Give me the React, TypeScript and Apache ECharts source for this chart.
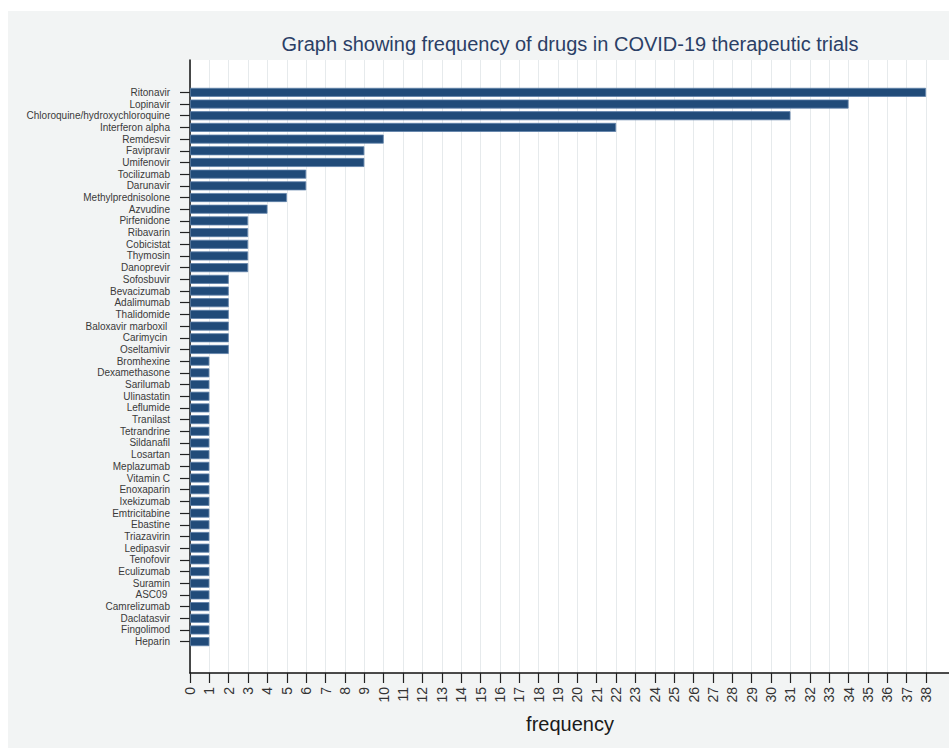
import React, { useEffect, useRef } from "react";
import * as echarts from "echarts";

// Drug names, most frequent first
const drugs: string[] = [
  "Ritonavir", "Lopinavir", "Chloroquine/hydroxychloroquine", "Interferon alpha",
  "Remdesvir", "Favipravir", "Umifenovir", "Tocilizumab", "Darunavir",
  "Methylprednisolone", "Azvudine", "Pirfenidone", "Ribavarin", "Cobicistat",
  "Thymosin", "Danoprevir", "Sofosbuvir", "Bevacizumab", "Adalimumab",
  "Thalidomide", "Baloxavir marboxil ", "Carimycin ", "Oseltamivir",
  "Bromhexine", "Dexamethasone", "Sarilumab", "Ulinastatin", "Leflumide",
  "Tranilast", "Tetrandrine", "Sildanafil", "Losartan", "Meplazumab",
  "Vitamin C", "Enoxaparin", "Ixekizumab", "Emtricitabine", "Ebastine",
  "Triazavirin", "Ledipasvir", "Tenofovir", "Eculizumab", "Suramin",
  "ASC09 ", "Camrelizumab", "Daclatasvir", "Fingolimod", "Heparin",
];

// Number of trials per drug
const frequency: number[] = [
  38, 34, 31, 22, 10, 9, 9, 6, 6, 5, 4, 3, 3, 3, 3, 3,
  2, 2, 2, 2, 2, 2, 2,
  1, 1, 1, 1, 1, 1, 1, 1, 1, 1, 1, 1, 1, 1, 1, 1, 1, 1, 1, 1, 1, 1, 1, 1, 1,
];

const titleText = "Graph showing frequency of drugs in COVID-19 therapeutic trials";
const xAxisName = "frequency";
const xMin = 0;
const xMax = 38;

const FONT = "'Liberation Sans', Arial, Helvetica, sans-serif";

export default function App() {
  const ref = useRef<HTMLDivElement>(null);

  useEffect(() => {
    document.body.style.margin = "0";
    if (!ref.current) return;
    const chart = echarts.init(ref.current, undefined, { renderer: "svg" });

    const plotLeft = 190;
    const plotRight = 23;

    chart.setOption({
      animation: false,
      backgroundColor: "#ffffff",
      textStyle: { fontFamily: FONT },
      grid: [
        // frame: axes, gridlines and tick labels
        { left: plotLeft, right: plotRight, top: 60, bottom: 75, containLabel: false },
        // bars
        { left: plotLeft, right: plotRight, top: 86.5, bottom: 100.5, containLabel: false },
      ],
      xAxis: [
        {
          type: "value",
          gridIndex: 0,
          min: xMin,
          max: xMax,
          interval: 1,
          axisLine: { show: true, onZero: false, lineStyle: { color: "#111", width: 1.5 } },
          axisTick: { show: true, length: 10, lineStyle: { color: "#222", width: 1.2 } },
          axisLabel: { rotate: 90, fontSize: 14, margin: 14, color: "#333", fontFamily: FONT },
          splitLine: { show: true, lineStyle: { color: "#e6eaec", width: 1 } },
        },
        { type: "value", gridIndex: 1, min: xMin, max: xMax, show: false },
      ],
      yAxis: [
        {
          type: "value",
          gridIndex: 0,
          axisLine: { show: true, lineStyle: { color: "#111", width: 1.5 } },
          axisTick: { show: false },
          axisLabel: { show: false },
          splitLine: { show: false },
        },
        {
          type: "category",
          gridIndex: 1,
          inverse: true,
          data: drugs,
          axisLine: { show: false },
          axisTick: { show: true, alignWithLabel: true, length: 10, lineStyle: { color: "#222", width: 1.2 } },
          axisLabel: { fontSize: 10, margin: 20, color: "#3a3a3a", fontFamily: FONT, interval: 0 },
          splitLine: { show: false },
        },
      ],
      series: [
        {
          type: "bar",
          xAxisIndex: 1,
          yAxisIndex: 1,
          data: frequency,
          barWidth: 9,
          itemStyle: { color: "#214b79", borderColor: "#5f82aa", borderWidth: 0.8 },
        },
      ],
      graphic: [
        { type: "rect", z: -2, shape: { x: 8, y: 11, width: 941, height: 737 }, style: { fill: "#f2f4f4" } },
        { type: "rect", z: -1, shape: { x: plotLeft, y: 60, width: 759, height: 613 }, style: { fill: "#ffffff" } },
        { type: "line", z: 5, shape: { x1: 926, y1: 673, x2: 949, y2: 673 }, style: { stroke: "#111", lineWidth: 1.5 } },
        {
          type: "text",
          x: 570,
          y: 44,
          style: { text: titleText, fill: "#2b3f66", font: `20px ${FONT}`, textAlign: "center", textVerticalAlign: "middle" },
        },
        {
          type: "text",
          x: 570,
          y: 724,
          style: { text: xAxisName, fill: "#1a1a1a", font: `20px ${FONT}`, textAlign: "center", textVerticalAlign: "middle" },
        },
      ],
    });

    return () => chart.dispose();
  }, []);

  return <div ref={ref} style={{ width: 949, height: 748 }} />;
}
